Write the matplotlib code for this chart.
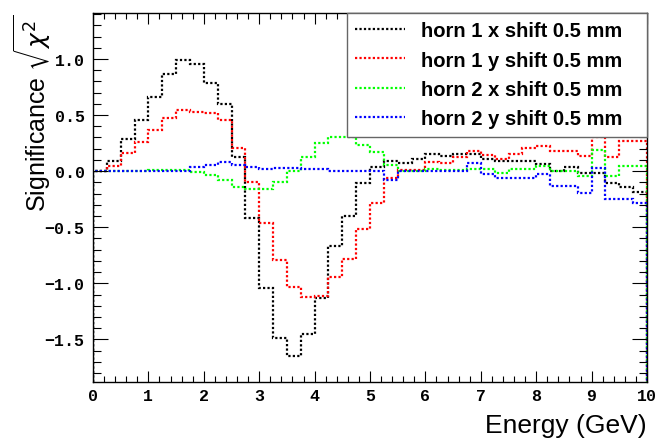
import numpy as np
import matplotlib
matplotlib.use("Agg")
import matplotlib.pyplot as plt
from matplotlib.ticker import MultipleLocator

edges = np.linspace(0, 10, 41)

labels = ["horn 1 x shift 0.5 mm", "horn 1 y shift 0.5 mm",
          "horn 2 x shift 0.5 mm", "horn 2 y shift 0.5 mm"]
colors = ["#000000", "#ff0000", "#00ff00", "#0000ff"]

h1x = [0.0, 0.086, 0.29, 0.46, 0.665, 0.864, 0.99, 0.953, 0.79, 0.60,
       0.122, -0.42, -1.04, -1.487, -1.645, -1.45, -1.134, -0.67, -0.40, -0.107,
       0.04, 0.086, 0.077, 0.107, 0.15, 0.137, 0.15, 0.15, 0.107, 0.092,
       0.092, 0.092, 0.062, 0.003, 0.033, -0.02, -0.02, -0.107, -0.145, -0.19]
h1y = [0.0, 0.047, 0.16, 0.264, 0.368, 0.47, 0.546, 0.53, 0.52, 0.454,
       0.205, -0.095, -0.46, -0.795, -1.03, -1.125, -1.11, -0.944, -0.78, -0.52,
       -0.285, -0.062, 0.012, 0.012, 0.083, 0.069, 0.122, 0.178, 0.148, 0.107,
       0.15, 0.21, 0.22, 0.18, 0.18, 0.136, 0.30, 0.122, 0.27, 0.27]
h2x = [0.0, 0.0, 0.0, 0.0, 0.008, 0.008, 0.008, -0.008, -0.033, -0.076,
       -0.137, -0.16, -0.158, -0.095, 0.005, 0.13, 0.255, 0.30, 0.30, 0.237,
       0.172, 0.056, -0.003, -0.003, 0.015, 0.009, 0.012, 0.018, 0.015, -0.018,
       0.015, 0.015, 0.047, 0.003, 0.003, -0.047, 0.19, -0.047, 0.047, 0.047]
h2y = [0.0, 0.0, 0.0, 0.0, 0.0, 0.0, 0.003, 0.033, 0.058, 0.08,
       0.058, 0.034, 0.015, 0.028, 0.027, 0.02, 0.015, 0.0, 0.0, 0.004,
       0.005, -0.08, -0.003, -0.003, 0.003, 0.003, 0.0, 0.071, -0.027, -0.062,
       -0.062, -0.062, -0.027, -0.136, -0.136, -0.196, 0.027, -0.25, -0.25, -0.288]

series = [h1x, h1y, h2x, h2y]

ymin, ymax = -1.88, 1.41

fig = plt.figure(figsize=(6.55, 4.39), dpi=100)
ax = fig.add_axes([93/655, 1-383/439, (647-93)/655, (383-14)/439])

for vals, c, lab in zip(series, colors, labels):
    ax.stairs(vals, edges, baseline=ymin, color=c, linestyle=(0, (1, 1)),
              linewidth=1.6, label=lab)

ax.set_xlim(0, 10)
ax.set_ylim(ymin, ymax)
ax.xaxis.set_major_locator(MultipleLocator(1))
ax.xaxis.set_minor_locator(MultipleLocator(0.2))
ax.yaxis.set_major_locator(MultipleLocator(0.5))
ax.yaxis.set_minor_locator(MultipleLocator(0.1))
ax.tick_params(which='both', direction='in', top=True, right=True, width=0.8)
ax.tick_params(axis='y', which='major', length=11)
ax.tick_params(axis='y', which='minor', length=5.5)
ax.tick_params(axis='x', which='major', length=8)
ax.tick_params(axis='x', which='minor', length=4)
for sp in ax.spines.values():
    sp.set_linewidth(1.0)

tick_font = dict(family='Liberation Mono', weight='bold', size=12)
ax.set_xticks(np.arange(0, 11, 1))
ax.set_xticklabels([str(i) for i in range(11)], fontdict=tick_font)
yt = np.arange(-1.5, 1.01, 0.5)
ax.set_yticks(yt)
ax.set_yticklabels([("%.1f" % v).replace("-", "\u2212") for v in yt], fontdict=tick_font)
ax.tick_params(axis='x', pad=4)
ax.tick_params(axis='y', pad=6)

ax.set_xlabel("Energy (GeV)", loc='right', fontsize=19, family='Liberation Sans')
ax.set_ylabel(r"Significance $\sqrt{\chi^2}$", loc='top', fontsize=18, family='Liberation Sans')
ax.xaxis.set_label_coords(1.0, -0.085)
ax.yaxis.set_label_coords(-0.07, 1.0)

x0 = (347 - 93) / 554
leg = ax.legend(loc='upper right', bbox_to_anchor=(x0, 0.0, 1.0 - x0, 1.0),
                mode='expand', frameon=True,
                fancybox=False, edgecolor='#666666', framealpha=1,
                prop=dict(family='Liberation Sans', weight='bold', size=14.5),
                handlelength=2.5, handletextpad=0.75, borderpad=0.4,
                labelspacing=0.52, borderaxespad=0.0)
leg.get_frame().set_linewidth(1.0)

fig.savefig("out.png", dpi=100)
